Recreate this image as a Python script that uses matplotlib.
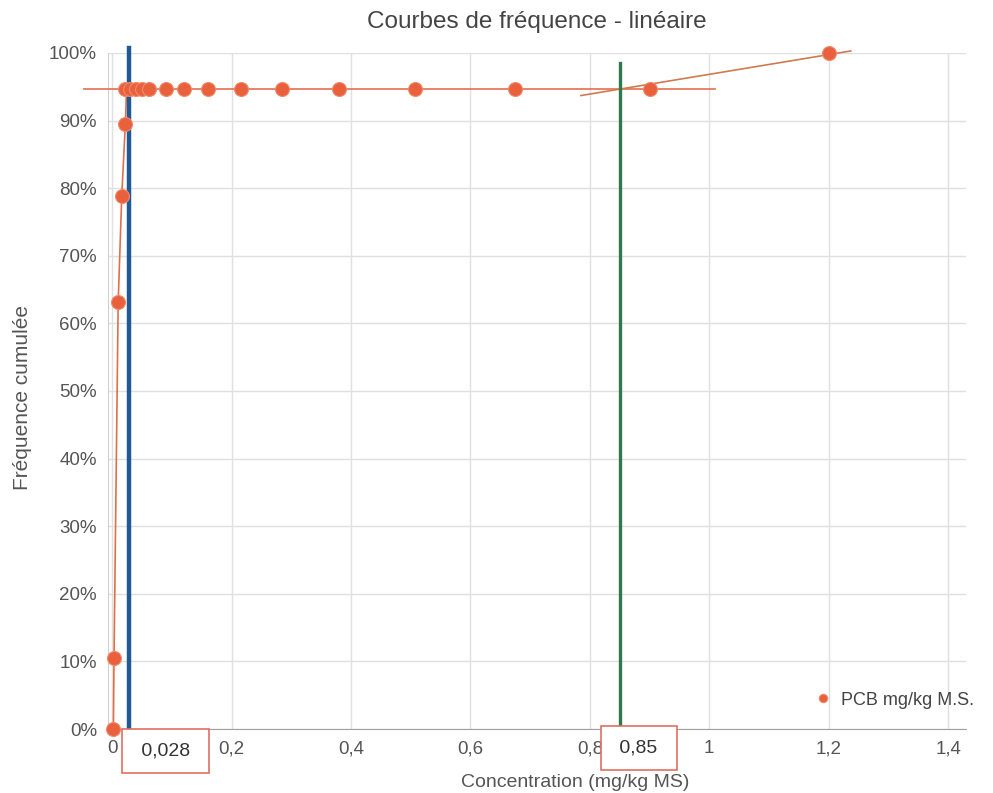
import matplotlib.pyplot as plt
from matplotlib.transforms import blended_transform_factory
from matplotlib.ticker import FuncFormatter

plt.rcParams['font.family'] = ['Liberation Sans', 'DejaVu Sans']

# PCB points (concentration mg/kg MS, cumulative frequency)
conc = [0.002, 0.003, 0.010, 0.016, 0.022,
        0.022, 0.030, 0.040, 0.050, 0.062, 0.090, 0.120, 0.160,
        0.216, 0.285, 0.380, 0.507, 0.675, 0.900, 1.200]
freq = [0.0, 0.105, 0.632, 0.789, 0.895,
        0.947, 0.947, 0.947, 0.947, 0.947, 0.947, 0.947, 0.947,
        0.947, 0.947, 0.947, 0.947, 0.947, 0.947, 1.0]

# hand-drawn trend segments
low_x = [0.002, 0.003, 0.010, 0.016, 0.022, 0.024]
low_y = [0.0, 0.105, 0.632, 0.789, 0.895, 0.947]
flat_x = [-0.048, 1.01]
flat_y = [0.947, 0.947]
slope_x = [0.785, 1.237]
slope_y = [0.937, 1.003]

# thresholds
seuil_bas = 0.028
seuil_haut = 0.85
seuil_bas_txt = '0,028'
seuil_haut_txt = '0,85'

xticks = [0, 0.2, 0.4, 0.6, 0.8, 1.0, 1.2, 1.4]
yticks = [i / 10 for i in range(11)]

fig = plt.figure(figsize=(9.93, 7.93), dpi=100)
ax = fig.add_axes([0.1088, 0.0807, 0.864, 0.8525])

ax.set_xlim(-0.007, 1.43)
ax.set_ylim(0, 1.0)

ax.set_xticks(xticks)
ax.set_yticks(yticks)
ax.xaxis.set_major_formatter(FuncFormatter(lambda v, p: ('%g' % round(v, 2)).replace('.', ',')))
ax.yaxis.set_major_formatter(FuncFormatter(lambda v, p: '%d%%' % round(v * 100)))
ax.tick_params(length=0, labelsize=13.5, colors='#555555', pad=8)
ax.grid(True, color='#e0e0e0', lw=1)
ax.set_axisbelow(True)
for s in ['top', 'right']:
    ax.spines[s].set_visible(False)
ax.spines['left'].set_color('#d0d0d0')
ax.spines['bottom'].set_color('#a0a0a0')

# trend segments
ax.plot(low_x, low_y, color='#e0704a', lw=1.2, zorder=3, clip_on=False)
ax.plot(flat_x, flat_y, color='#e0704a', lw=1.2, zorder=3, clip_on=False)
ax.plot(slope_x, slope_y, color='#d07a50', lw=1.2, zorder=3, clip_on=False)

# threshold lines
ax.plot([seuil_bas, seuil_bas], [0, 1.008], color='#1f5a96', lw=3.2, zorder=4, clip_on=False)
ax.plot([seuil_haut, seuil_haut], [0, 0.985], color='#2f7a4c', lw=2.4, zorder=4, clip_on=False)

ax.plot(conc, freq, 'o', color='#e8603c', ms=10, mec='#f08a6a', mew=0.8,
        zorder=5, clip_on=False, label='PCB mg/kg M.S.')

# value boxes under the axis
trans = blended_transform_factory(ax.transData, ax.transAxes)
box = dict(boxstyle='square,pad=0.7', fc='white', ec='#e07060', lw=1.2)
ax.text(0.0895, -0.032, ' ' + seuil_bas_txt + ' ', transform=trans, ha='center', va='center',
        fontsize=14, color='#333333', bbox=box, zorder=10, clip_on=False)
ax.text(0.882, -0.028, ' ' + seuil_haut_txt + ' ', transform=trans, ha='center', va='center',
        fontsize=14, color='#333333', bbox=box, zorder=10, clip_on=False)

ax.set_title('Courbes de fréquence - linéaire', fontsize=17.5, color='#444444', pad=18, x=0.5)
ax.set_xlabel('Concentration (mg/kg MS)', fontsize=14, color='#555555', labelpad=12, x=0.545)
ax.set_ylabel('Fréquence cumulée', fontsize=15, color='#555555', labelpad=12, y=0.49)

ax.legend(loc='center left', bbox_to_anchor=(0.803, 0.117), bbox_transform=fig.transFigure,
          frameon=False, fontsize=13, handletextpad=0.0, markerscale=0.6,
          labelcolor='#444444', borderaxespad=0)

fig.savefig('out.png', dpi=100, facecolor='white')
